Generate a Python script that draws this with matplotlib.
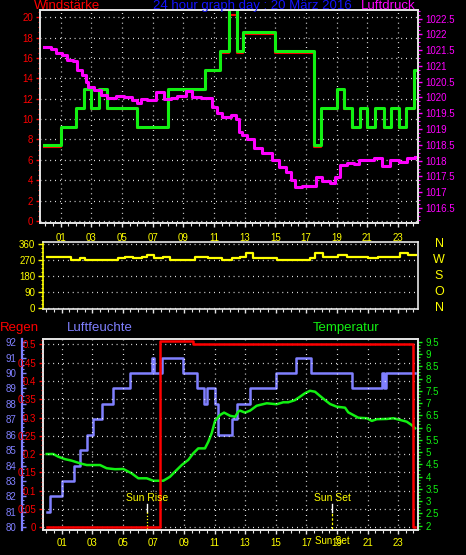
#!/usr/bin/env python3
"""
plot.py

24 hour weather station graph for 20 Maerz 2016: wind / pressure panel,
wind direction strip and rain / humidity / temperature panel on black.
Writes out.png (466x555 px).
"""

import matplotlib
matplotlib.use("Agg")
import matplotlib.pyplot as plt
from matplotlib.ticker import FixedLocator, FormatStrFormatter, MultipleLocator
from matplotlib.transforms import blended_transform_factory, offset_copy

plt.rcParams["font.family"] = ["Liberation Sans Narrow", "Liberation Sans", "DejaVu Sans"]

# ---------------------------------------------------------------------------
# data (hours of the day)
# ---------------------------------------------------------------------------

# wind speed, step values (km/h), value holds from hour[i] to hour[i+1]
wind_hours = [-0.1, 1.0, 2.0, 2.5, 3.0, 3.5, 4.0, 6.0, 8.0, 10.4, 11.4, 12.0,
              12.5, 12.9, 15.0, 17.5, 18.0, 19.0, 19.5, 20.0, 20.5, 21.0, 21.5,
              22.07, 22.57, 23.04, 23.5, 24.06, 24.2]
wind_avg = [7.41, 9.26, 11.11, 12.96, 11.11, 12.96, 11.11, 9.26, 12.96, 14.82,
            16.67, 20.37, 16.67, 18.52, 16.67, 7.41, 11.11, 12.96, 11.11, 9.26,
            11.11, 9.26, 11.11, 9.26, 11.11, 9.26, 11.11, 14.82, 14.82]
wind_gust = [7.41, 9.26, 11.11, 12.96, 11.11, 12.96, 11.11, 9.26, 12.96, 14.82,
             16.67, 22.22, 16.67, 18.52, 16.67, 7.41, 11.11, 12.96, 11.11, 9.26,
             11.11, 9.26, 11.11, 9.26, 11.11, 9.26, 11.11, 14.82, 14.82]

# air pressure (hPa)
press_hours = [-0.1, 0.35, 0.68, 1.11, 1.44, 1.77, 2.09, 2.42, 2.63, 2.76, 3.15,
               3.61, 4.05, 4.59, 5.11, 5.67, 6.0, 6.22, 6.65, 7.19, 7.71, 8.17,
               8.61, 9.15, 9.58, 10.12, 10.56, 10.89, 11.21, 11.54, 12.08, 12.4,
               12.62, 12.84, 13.17, 13.6, 14.14, 14.8, 15.22, 15.66, 15.99, 16.31,
               16.75, 17.18, 17.62, 18.05, 18.59, 18.92, 19.24, 19.68, 20.11,
               20.44, 20.98, 21.41, 21.96, 22.5, 23.04, 23.59, 24.13]
press = [1021.60, 1021.53, 1021.41, 1021.34, 1021.18, 1021.15, 1020.87, 1020.71,
         1020.50, 1020.32, 1020.23, 1020.07, 1019.99, 1020.04, 1020.00, 1019.92,
         1019.81, 1019.95, 1019.92, 1020.16, 1019.94, 1019.97, 1020.04, 1020.20,
         1020.02, 1019.97, 1019.97, 1019.71, 1019.50, 1019.39, 1019.44, 1019.32,
         1018.91, 1018.81, 1018.67, 1018.39, 1018.23, 1018.02, 1017.81, 1017.65,
         1017.39, 1017.17, 1017.20, 1017.20, 1017.49, 1017.35, 1017.28, 1017.49,
         1017.86, 1017.91, 1017.88, 1018.02, 1018.02, 1018.07, 1017.83, 1018.02,
         1017.97, 1018.07, 1018.10]

# wind direction (degrees), step values
dir_hours = [0.02, 1.59, 2.2, 2.52, 4.7, 5.14, 5.68, 6.23, 6.56, 7.04, 7.65, 8.08,
             9.72, 10.59, 11.47, 12.12, 12.66, 13.05, 13.53, 15.06, 17.24, 17.57,
             18.11, 19.09, 19.64, 21.05, 21.71, 23.13, 23.67, 24.17]
wind_dir = [289, 270, 283, 270, 279, 289, 283, 289, 300, 283, 289, 270, 289, 283,
            272, 283, 289, 311, 283, 272, 283, 311, 289, 300, 289, 283, 289, 311,
            300, 300]

# rain (mm), step values
rain_hours = [0.02, 7.44, 9.61, 23.96, 24.13]
rain = [0.0, 0.51, 0.50, 0.0, 0.0]

# humidity (%), step values
hum_hours = [0.02, 0.24, 1.0, 1.81, 2.2, 2.67, 3.07, 3.66, 4.38, 5.47, 6.89,
             7.06, 7.54, 8.91, 9.87, 10.31, 10.52, 11.03, 11.24, 12.16, 12.49,
             13.32, 15.0, 16.3, 17.31, 20.01, 21.97, 22.05, 22.18, 24.11]
humidity = [81, 82, 83, 84, 85, 86, 87, 88, 89, 90, 91, 90, 91, 90, 89, 88, 89,
            88, 86, 87, 88, 89, 90, 91, 90, 89, 90, 89, 90, 90]

# temperature (deg C)
temp_hours = [0.02, 0.45, 0.78, 1.22, 1.65, 2.2, 2.64, 3.51, 3.94, 4.49, 5.03,
              5.58, 6.01, 6.56, 6.99, 7.65, 8.08, 8.41, 8.85, 9.28, 9.61, 9.93,
              10.37, 10.59, 10.81, 11.03, 11.35, 11.62, 12.01, 12.34, 12.55,
              12.66, 12.99, 13.32, 13.75, 14.41, 15.06, 15.49, 15.82, 16.26,
              16.59, 16.91, 17.24, 17.57, 17.89, 18.22, 18.55, 18.99, 19.53,
              19.74, 20.07, 20.4, 20.95, 21.28, 21.6, 22.26, 22.69, 23.13, 23.56,
              23.89, 24.11]
temp = [4.92, 4.92, 4.81, 4.71, 4.65, 4.54, 4.47, 4.47, 4.34, 4.30, 4.31, 4.13,
        3.93, 3.93, 3.83, 3.83, 3.99, 4.20, 4.47, 4.68, 4.95, 5.15, 5.15, 5.42,
        5.77, 6.27, 6.51, 6.61, 6.48, 6.44, 6.65, 6.69, 6.61, 6.69, 6.89, 6.99,
        6.95, 7.03, 7.03, 7.12, 7.26, 7.40, 7.50, 7.46, 7.29, 7.12, 6.96, 6.85,
        6.81, 6.62, 6.51, 6.40, 6.38, 6.27, 6.34, 6.35, 6.38, 6.31, 6.24, 6.10,
        5.97]

sun_rise = 6.56
sun_set = 18.7

hour_ticks = list(range(1, 24, 2))
compass = ["N", "W", "S", "O", "N"]
compass_deg = [360, 270, 180, 90, 0]

# ---------------------------------------------------------------------------
# style
# ---------------------------------------------------------------------------

W, H = 466, 555
FRAME = "#e6e6e6"
RED = "#ff0000"
GREEN = "#12f012"
MAGENTA = "#ff00ff"
YELLOW = "#ffff00"
LAVENDER = "#8080ff"
BLUE = "#1414ff"
TICK_FS = 7
TITLE_FS = 9.5
DOTS = (0, (0.7, 3.2))


def _box(left, top, right, bottom):
    """Axes rectangle from pixel edges (origin top-left)."""
    return [left / W, (H - bottom) / H, (right - left) / W, (bottom - top) / H]


def _frame(ax, left_color=FRAME):
    for side, sp in ax.spines.items():
        sp.set_color(left_color if side == "left" else FRAME)
        sp.set_linewidth(1.2)


def _hour_axis(ax, labels=True, pad=4.5):
    ax.xaxis.set_major_locator(FixedLocator(hour_ticks))
    ax.xaxis.set_minor_locator(MultipleLocator(0.5))
    ax.xaxis.set_major_formatter(FormatStrFormatter("%02d"))
    ax.tick_params(axis="x", which="major", colors=FRAME, labelcolor=YELLOW,
                   length=3, width=1, labelsize=TICK_FS, pad=pad,
                   labelbottom=labels)
    ax.tick_params(axis="x", which="minor", colors=FRAME, length=1.8, width=0.8)


def _y_ticks(ax, major, minor, color, fmt="%g", side="left", pad=2):
    ax.yaxis.set_major_locator(MultipleLocator(major))
    ax.yaxis.set_minor_locator(MultipleLocator(minor))
    ax.yaxis.set_major_formatter(FormatStrFormatter(fmt))
    ax.tick_params(axis="y", which="major", colors=color, length=3, width=1,
                   labelsize=TICK_FS, pad=pad)
    ax.tick_params(axis="y", which="minor", colors=color, length=1.6, width=0.8)


fig = plt.figure(figsize=(W / 100, H / 100), dpi=100)
fig.patch.set_facecolor("black")

# ── 1. wind speed / air pressure ──────────────────────────────────────────
ax_w = fig.add_axes(_box(40, 10, 418, 223))
ax_w.set_facecolor("black")
ax_w.set_xlim(-0.35, 24.3)
ax_w.set_ylim(-0.2, 20.7)
_frame(ax_w)
_hour_axis(ax_w, pad=4.5)
_y_ticks(ax_w, 2, 0.5, RED)
ax_w.set_axisbelow(True)
ax_w.grid(True, which="major", color="white", linestyle=DOTS, linewidth=0.9)

red_tr = offset_copy(ax_w.transData, fig=fig, x=0, y=-1.5, units="dots")
ax_w.step(wind_hours, wind_avg, where="post", color=RED, lw=1.5,
          transform=red_tr)
ax_w.step(wind_hours, wind_gust, where="post", color=GREEN, lw=2.2)

ax_p = ax_w.twinx()
ax_p.set_ylim(1016.025, 1022.77)
_frame(ax_p)
_y_ticks(ax_p, 0.5, 0.125, MAGENTA, pad=2.5)
ax_p.step(press_hours, press, where="post", color=MAGENTA, lw=2.2)

fig.text(34 / W, 1 - 9 / H, "Windstärke", color=RED, fontsize=TITLE_FS,
         va="baseline", ha="left")
fig.text(252 / W, 1 - 9 / H, "24 hour graph day : 20 März 2016", color=BLUE,
         fontsize=TITLE_FS, va="baseline", ha="center")
fig.text(416 / W, 1 - 9 / H, "Luftdruck", color=MAGENTA, fontsize=TITLE_FS,
         va="baseline", ha="right")

# ── 2. wind direction ─────────────────────────────────────────────────────
ax_d = fig.add_axes(_box(43, 241.7, 418, 309))
ax_d.set_facecolor("black")
ax_d.set_xlim(-0.22, 24.3)
ax_d.set_ylim(-7, 373)
_frame(ax_d, left_color=YELLOW)
_hour_axis(ax_d, labels=False)
ax_d.yaxis.set_major_locator(FixedLocator([0, 90, 180, 270, 360]))
ax_d.yaxis.set_minor_locator(MultipleLocator(22.5))
ax_d.tick_params(axis="y", which="major", colors=YELLOW, length=3.5, width=1,
                 labelsize=TICK_FS, pad=2)
ax_d.tick_params(axis="y", which="minor", colors=YELLOW, length=1.6, width=0.8)
ax_d.set_axisbelow(True)
ax_d.grid(True, axis="y", color="white", linestyle=DOTS, linewidth=0.9)
ax_d.step(dir_hours, wind_dir, where="post", color=YELLOW, lw=1.6)

trd = blended_transform_factory(ax_d.transAxes, ax_d.transData)
for letter, deg in zip(compass, compass_deg):
    ax_d.text(1.056, deg, letter, transform=trd, color=YELLOW, fontsize=9,
              ha="center", va="center", clip_on=False)

# ── 3. rain / humidity / temperature ──────────────────────────────────────
ax_r = fig.add_axes(_box(43, 339.3, 418, 530))
ax_r.set_xlim(-0.22, 24.3)
ax_r.set_ylim(-0.0074, 0.5137)
_frame(ax_r)
_hour_axis(ax_r, pad=2.5)
_y_ticks(ax_r, 0.05, 0.0125, RED)
ax_r.grid(True, which="major", color="white", linestyle=DOTS, linewidth=0.9)

ax_h = ax_r.twinx()
ax_h.set_ylim(79.82, 92.19)
for sp in ax_h.spines.values():
    sp.set_visible(False)
ax_h.spines["left"].set_visible(True)
ax_h.spines["left"].set_position(("axes", -21.3 / 375))
ax_h.spines["left"].set_color(LAVENDER)
ax_h.spines["left"].set_linewidth(1.6)
ax_h.yaxis.set_ticks_position("left")
ax_h.yaxis.set_label_position("left")
_y_ticks(ax_h, 1, 0.25, LAVENDER, fmt="%d", pad=3.5)
ax_h.tick_params(axis="y", which="both", direction="in")
ax_h.step(hum_hours, humidity, where="post", color=LAVENDER, lw=1.8)

ax_t = ax_r.twinx()
ax_t.set_ylim(1.82, 9.6)
_frame(ax_t)
_y_ticks(ax_t, 0.5, 0.125, GREEN, pad=2.5)
ax_t.plot(temp_hours, temp, color=GREEN, lw=1.8)

# rain drawn above the other two curves
ax_r.set_zorder(ax_t.get_zorder() + 1)
ax_r.patch.set_visible(False)
ax_r.step(rain_hours, rain, where="post", color=RED, lw=1.8)

tr = blended_transform_factory(ax_r.transData, ax_r.transAxes)
for hour, label, ls in [(sun_rise, "Sun Rise", (0, (1, 1.5))),
                        (sun_set, "Sun Set", (0, (2, 1.5)))]:
    ax_r.plot([hour, hour], [0.096, 0.136], transform=tr, color="white", lw=1)
    ax_r.plot([hour, hour], [0.005, 0.096], transform=tr, color=YELLOW, lw=0.9,
              linestyle=ls)
    ax_r.text(hour, 0.169, label, transform=tr, color=YELLOW, fontsize=7.5,
              ha="center", va="center")
ax_r.text(sun_set, -0.056, "Sun Set", transform=tr, color=YELLOW,
          fontsize=TICK_FS, ha="center", va="center", clip_on=False)

fig.text(0, 1 - 331 / H, "Regen", color=RED, fontsize=TITLE_FS,
         va="baseline", ha="left")
fig.text(67 / W, 1 - 331 / H, "Luftfeuchte", color=LAVENDER,
         fontsize=TITLE_FS, va="baseline", ha="left")
fig.text(313 / W, 1 - 331 / H, "Temperatur", color=GREEN, fontsize=TITLE_FS,
         va="baseline", ha="left")

fig.savefig("out.png", dpi=100, facecolor="black")
plt.close(fig)
